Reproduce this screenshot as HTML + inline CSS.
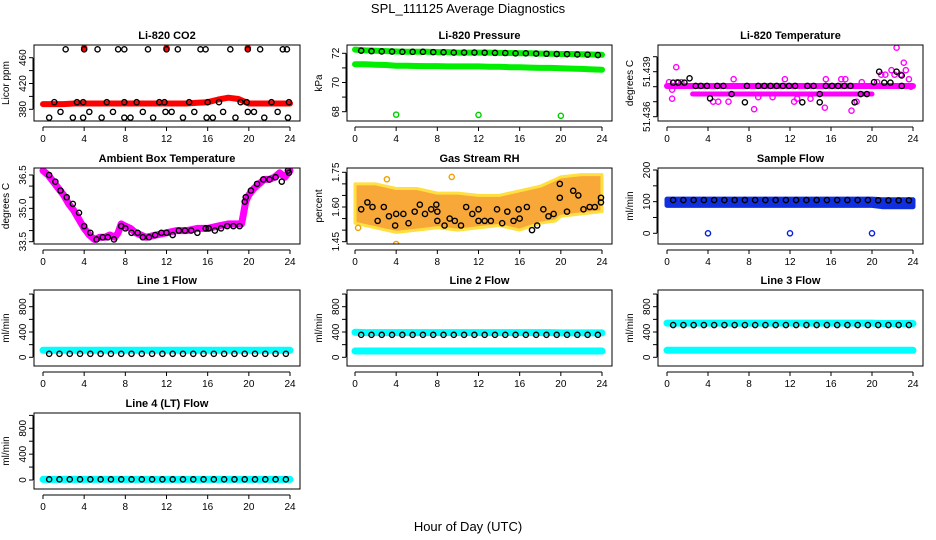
<!DOCTYPE html>
<html><head><meta charset="utf-8"><style>
html,body{margin:0;padding:0;background:#fff;}
svg{display:block;font-family:"Liberation Sans",sans-serif;}
</style></head><body>
<svg id="c" width="936" height="540" viewBox="0 0 936 540">
<text x="468" y="13" text-anchor="middle" font-size="13">SPL_111125  Average Diagnostics</text>
<text x="468" y="531" text-anchor="middle" font-size="13">Hour of Day (UTC)</text>
</svg>
<script>
// ---- data ----
const hourTicks=[0,4,8,12,16,20,24];
const hrs25=[0,1,2,3,4,5,6,7,8,9,10,11,12,13,14,15,16,17,18,19,20,21,22,23,24];
// CO2
const co2Band=[388,388,388,389,389,389,389,389,389,389,389,389,389,389,389,390,391,395,398,396,389,389,389,389,389];
const co2HighH=[2.2,4.0,5.3,7.3,7.9,10.2,12.0,13.1,15.3,15.8,18.2,19.9,21.1,23.3,23.7];
const co2HighV=[473,473,473,473,473,473,473,473,473,473,473,473,473,473,473];
const co2MidH=[1.1,3.3,3.9,6.2,7.9,9.1,11.3,11.8,14.2,16.0,17.1,19.2,19.8,22.2,23.9];
const co2MidV=[391,391,391,391,391,391,391,391,391,391,391,391,391,391,391];
const co2LowH=[0.6,1.7,2.9,3.9,4.5,5.7,6.8,7.9,8.5,9.7,10.7,11.9,12.5,13.6,14.7,15.9,16.5,17.5,18.7,19.9,20.5,21.5,22.8,23.8];
const co2LowV=[367,376,367,367,376,367,376,367,367,376,367,376,376,367,376,367,367,376,367,376,376,367,376,367];
const co2RedH=[4.0,12.0,19.9];
const co2RedV=[475,475,475];
// Pressure
const presBand1=[72.25,72.2,72.18,72.15,72.12,72.1,72.1,72.1,72.08,72.08,72.05,72.05,72.05,72.05,72.03,72.02,72.0,72.0,71.98,71.97,71.95,71.95,71.93,71.92,71.9];
const presBand2=[71.25,71.25,71.22,71.2,71.15,71.15,71.13,71.12,71.12,71.1,71.1,71.1,71.1,71.08,71.08,71.05,71.05,71.02,71.0,71.0,70.97,70.95,70.93,70.9,70.88];
const presBlack=[72.2,72.18,72.15,72.13,72.12,72.1,72.1,72.1,72.08,72.07,72.05,72.05,72.05,72.04,72.03,72.02,72.0,72.0,71.98,71.97,71.95,71.94,71.92,71.91,71.88];
const presOutH=[4.0,12.0,20.0];
const presOutV=[67.8,67.78,67.72];
// Li-820 temperature
const tempMain=[51.43805,51.43805,51.43805,51.43805,51.43805,51.43805,51.43805,51.43805,51.43805,51.43805,51.43805,51.43805,51.43805,51.43805,51.43805,51.43805,51.43805,51.43805,51.43805,51.43805,51.43805,51.43805,51.43805,51.43805,51.43805];
const tempLowH=[2.5,3,4,5,6,7,8,9,10,11,12,13,14,15,16,17,18,19,20];
const tempLowV=[51.43751,51.43751,51.43751,51.43751,51.43751,51.43751,51.43751,51.43751,51.43751,51.43751,51.43751,51.43751,51.43751,51.43751,51.43751,51.43751,51.43751,51.43751,51.43751];
const tempMagH=[0.2,0.5,0.9,1.0,1.4,0.5,4.5,5.0,6.0,6.5,8.5,8.9,10.3,11.5,12.4,12.7,14.0,15.4,15.5,17.0,17.4,18.0,18.5,19.0,20.5,20.9,21.3,21.9,22.2,22.4,22.8,23.1,23.3,23.6,23.8];
const tempMagV=[51.4383,51.4372,51.4393,51.4383,51.4383,51.4378,51.4370,51.4370,51.4370,51.4385,51.4365,51.4373,51.4373,51.4385,51.4370,51.4372,51.4372,51.4366,51.4385,51.4385,51.4385,51.4364,51.4370,51.4383,51.4383,51.4388,51.4388,51.4391,51.4388,51.4406,51.4388,51.4396,51.4391,51.4385,51.4380];
const tempBlkH=[0.6,1.1,1.7,2.2,2.8,3.3,3.9,4.2,4.9,5.5,6.3,7.6,7.8,8.9,9.5,10.1,10.7,11.3,11.9,12.5,13.2,13.7,14.3,14.9,14.9,15.5,16.1,16.7,17.3,17.9,18.3,18.9,19.5,20.2,20.7,21.2,21.8,22.4,22.9,22.9];
const tempBlkV=[51.43827,51.43827,51.43827,51.43856,51.43805,51.43805,51.43805,51.43722,51.43805,51.43805,51.43751,51.43696,51.43805,51.43805,51.43805,51.43805,51.43805,51.43805,51.43805,51.43805,51.43696,51.43805,51.43805,51.43751,51.43696,51.43805,51.43805,51.43805,51.43805,51.43805,51.43696,51.43751,51.43751,51.43830,51.43900,51.43827,51.43827,51.43900,51.43875,51.43805];
// Ambient box temperature
const ambH=[0,0.5,1,1.5,2,2.5,3,3.5,4,4.5,5,5.5,6,6.5,7,7.3,7.6,8,8.5,9,9.5,10,11,12,13,14,15,16,17,18,19,19.3,19.5,19.7,20,20.5,21,21.5,22,22.5,23,23.5,24];
const ambV=[36.7,36.5,36.2,35.9,35.6,35.2,34.9,34.5,34.1,33.8,33.6,33.7,33.7,33.8,33.7,33.9,34.3,34.2,34.1,33.9,33.8,33.7,33.8,33.9,34.0,34.0,34.1,34.1,34.2,34.3,34.3,34.3,34.8,35.3,35.6,35.9,36.1,36.3,36.3,36.4,36.6,36.4,36.7];
const ambBlkH=[0.6,1.2,1.7,2.3,2.9,3.5,4.0,4.6,5.2,5.8,6.3,6.9,7.6,8.0,8.6,9.2,9.7,10.3,10.9,11.5,12.0,12.6,13.2,13.8,14.4,15.0,15.8,16.1,16.7,17.3,17.9,18.5,19.1,19.6,19.7,20.2,20.8,21.4,22.0,22.6,23.2,23.8,23.9];
const ambBlkV=[36.5,36.2,35.8,35.5,35.2,34.8,34.2,33.9,33.6,33.7,33.7,33.6,34.2,34.1,33.9,33.9,33.7,33.7,33.8,33.9,33.9,33.8,34.0,34.0,34.0,33.9,34.1,34.1,34.0,34.1,34.2,34.2,34.2,35.3,35.5,35.8,36.1,36.3,36.3,36.4,36.2,36.7,36.6];
// Gas stream RH
const rhBandH=[0,2,4,6,8,10,12,14,16,18,19.5,20,22,24];
const rhUpper=[1.70,1.70,1.68,1.68,1.66,1.66,1.65,1.65,1.67,1.69,1.72,1.73,1.74,1.74];
const rhLower=[1.53,1.51,1.49,1.50,1.51,1.50,1.51,1.52,1.50,1.53,1.54,1.56,1.57,1.58];
const rhBlkH=[0.6,1.2,1.7,2.2,2.8,3.3,4.0,3.9,4.7,5.2,5.8,6.3,6.8,7.4,7.9,8.0,8.0,8.7,9.2,9.7,10.3,10.8,11.4,12.0,12.0,12.6,13.2,13.8,14.3,14.8,15.4,15.9,16.0,16.7,17.2,17.7,18.3,18.8,19.3,19.9,19.9,20.6,21.2,21.7,22.2,22.8,23.3,23.9,23.9];
const rhBlkV=[1.59,1.62,1.60,1.54,1.60,1.56,1.57,1.52,1.57,1.53,1.58,1.61,1.57,1.59,1.61,1.58,1.54,1.52,1.55,1.54,1.52,1.60,1.57,1.59,1.54,1.54,1.54,1.59,1.53,1.58,1.54,1.59,1.55,1.60,1.50,1.52,1.59,1.56,1.57,1.64,1.70,1.58,1.67,1.65,1.59,1.60,1.60,1.64,1.62];
const rhOutH=[0.3,4.0,9.4,3.1];
const rhOutV=[1.51,1.44,1.73,1.72];
// Sample flow
const sfUpper=[108,108,108,108,108,108,108,108,108,108,108,108,108,108,108,108,108,108,108,108,108,106,106,106,106];
const sfLower=[88,88,88,88,88,88,88,88,88,88,88,88,88,88,88,88,88,88,88,88,88,84,84,84,84];
const sfBlack=[105,105,105,105,105,105,105,105,105,105,105,105,105,105,105,105,105,105,105,105,105,104,104,104,104];
const sfOutH=[4.0,12.0,20.0];
const sfOutV=[0,0,0];
// Line flows
const l1Cyan=[110,110,110,110,110,110,110,110,110,110,110,110,110,110,110,110,110,110,110,110,110,110,110,110,110];
const l1Black=[55,55,55,55,55,55,55,55,55,55,55,55,55,55,55,55,55,55,55,55,55,55,55,55,55];
const l2CyanA=[395,390,390,390,390,390,390,390,390,390,390,390,390,390,390,390,390,390,390,390,385,385,385,385,385];
const l2CyanB=[100,100,100,100,100,100,100,100,100,100,100,100,100,100,100,100,100,100,100,100,100,100,100,100,100];
const l2Black=[355,355,355,355,355,355,355,355,355,355,355,355,355,355,355,355,355,355,355,355,355,355,355,355,355];
const l3CyanA=[540,540,540,540,540,540,540,540,540,540,540,540,540,540,540,540,540,540,540,540,540,535,535,535,535];
const l3CyanB=[110,110,110,110,110,110,110,110,110,110,110,110,110,110,110,110,110,110,110,110,110,110,110,110,110];
const l3Black=[510,510,510,510,510,510,510,510,510,510,510,510,510,510,510,510,510,510,510,510,510,510,510,510,510];
const l4Cyan=[10,10,10,10,10,10,10,10,10,10,10,10,10,10,10,10,10,10,10,10,10,10,10,10,10];
const l4Black=[10,10,10,10,10,10,10,10,10,10,10,10,10,10,10,10,10,10,10,10,10,10,10,10,10];

// ---- drawing ----
const NS='http://www.w3.org/2000/svg';
const svg=document.getElementById('c');
const COLS=[{l:34,r:300,x0:43,x24:290},{l:347,r:612,x0:355,x24:602},{l:658,r:923,x0:667,x24:913}];
const ROWS=[{t:45,b:121},{t:168,b:244},{t:290,b:366},{t:413,b:489}];
function mk(tag,attrs,parent){const e=document.createElementNS(NS,tag);for(const k in attrs)e.setAttribute(k,attrs[k]);(parent||svg).appendChild(e);return e;}
function panel(name,c,r,title,ylab,v1,p1,v2,p2,ticks,labels){
  const C=COLS[c],R=ROWS[r];
  const g=mk('g',{});
  
  
  const sx=h=>C.x0+h*(C.x24-C.x0)/24;
  const sy=v=>p1+(v-v1)*(p2-p1)/(v2-v1);
  const plot=mk('g',{},g);
  
  
  const t=mk('text',{x:(C.l+C.r)/2,y:R.t-6,'text-anchor':'middle','font-size':11,'font-weight':'bold'},g);
  t.textContent=title;
  
  
  const yl=mk('text',{transform:`translate(${C.l-25},${(R.t+R.b)/2}) rotate(-90)`,'text-anchor':'middle','font-size':10},g);
  yl.textContent=ylab;
  
  
  const xa=mk('g',{stroke:'#000','stroke-width':1},g);
  
  
  const yb=R.b+6;
  mk('line',{x1:sx(0),y1:yb,x2:sx(24),y2:yb},xa);
  hourTicks.forEach(h=>{mk('line',{x1:sx(h),y1:yb,x2:sx(h),y2:yb+4},xa);
    const tx=mk('text',{x:sx(h),y:yb+15,'text-anchor':'middle','font-size':10,stroke:'none',fill:'#000'},xa);tx.textContent=h;
    
    });
  const ya=mk('g',{stroke:'#000','stroke-width':1},g);
  
  
  const xl=C.l-1;
  mk('line',{x1:xl,y1:sy(ticks[0]),x2:xl,y2:sy(ticks[ticks.length-1])},ya);
  ticks.forEach(v=>mk('line',{x1:xl,y1:sy(v),x2:xl-4,y2:sy(v)},ya));
  labels.forEach(l=>{const tx=mk('text',{transform:`translate(${xl-7},${sy(l[0])}) rotate(-90)`,'text-anchor':'middle','font-size':10,stroke:'none',fill:'#000'},ya);tx.textContent=l[1];
    
    });
  mk('rect',{x:C.l,y:R.t,width:C.r-C.l,height:R.b-R.t,fill:'none',stroke:'#000','stroke-width':1},g);
  const clip='clip'+name;
  const cp=mk('clipPath',{id:clip},g);mk('rect',{x:C.l,y:R.t,width:C.r-C.l,height:R.b-R.t},cp);
  plot.setAttribute('clip-path',`url(#${clip})`);
  return {sx,sy,plot};
}
function band(P,xs,ys,color,w,name){
  const d=xs.map((h,i)=>(i?'L':'M')+P.sx(h).toFixed(1)+','+P.sy(ys[i]).toFixed(1)).join('');
  const e=mk('path',{d,fill:'none',stroke:color,'stroke-width':w,'stroke-linecap':'round','stroke-linejoin':'round'},P.plot);
  
  
}
function area(P,xs,lo,hi,color,edge,ew,name){
  let d=xs.map((h,i)=>(i?'L':'M')+P.sx(h).toFixed(1)+','+P.sy(hi[i]).toFixed(1)).join('');
  for(let i=xs.length-1;i>=0;i--)d+='L'+P.sx(xs[i]).toFixed(1)+','+P.sy(lo[i]).toFixed(1);
  const e=mk('path',{d:d+'Z',fill:color,stroke:edge,'stroke-width':ew,'stroke-linejoin':'round'},P.plot);
  
  
}
function pts(P,xs,ys,color,name,fill){
  xs.forEach((h,i)=>{const e=mk('circle',{cx:P.sx(h),cy:P.sy(ys[i]),r:2.6,fill:fill||'none',stroke:color,'stroke-width':1.4},P.plot);
    
    });
}
const everyHalf=hrs25.slice(1).map(h=>h-0.4);
const ofs=a=>a.slice(1);

// CO2
let P=panel('co2',0,0,'Li-820 CO2','Licor ppm',460,57.7,380,109.3,[380,400,420,440,460],[[380,'380'],[420,'420'],[460,'460']]);
band(P,hrs25,co2Band,'#ff0000',6,'co2-band');
pts(P,co2RedH,co2RedV,'#ff0000','co2-red-point','#ff0000');
pts(P,co2HighH,co2HighV,'#000','co2-point');
pts(P,co2MidH,co2MidV,'#000','co2-point');
pts(P,co2LowH,co2LowV,'#000','co2-point');
// Pressure
P=panel('pressure',1,0,'Li-820 Pressure','kPa',72,53.3,68,111.7,[68,69,70,71,72],[[68,'68'],[70,'70'],[72,'72']]);
band(P,hrs25,presBand1,'#00ee00',6,'pressure-band-1');
band(P,hrs25,presBand2,'#00ee00',6,'pressure-band-2');
pts(P,everyHalf,ofs(presBlack),'#000','pressure-point');
pts(P,presOutH,presOutV,'#00cc00','pressure-outlier');
// Li-820 temperature
P=panel('li820-temp',2,0,'Li-820 Temperature','degrees C',51.439,71.7,51.436,116.7,[51.436,51.437,51.438,51.439,51.440],[[51.439,'51.439'],[51.436,'51.436']]);
band(P,hrs25,tempMain,'#ff00ff',6,'temp-band');
band(P,tempLowH,tempLowV,'#ff00ff',5,'temp-band-low');
pts(P,tempMagH,tempMagV,'#ff00ff','temp-magenta-point');
pts(P,tempBlkH,tempBlkV,'#000','temp-point');
// Ambient
P=panel('ambient',0,1,'Ambient Box Temperature','degrees C',36.5,175,33.5,241.7,[33.5,34,34.5,35,35.5,36,36.5],[[33.5,'33.5'],[35,'35.0'],[36.5,'36.5']]);
band(P,ambH,ambV,'#ff00ff',7,'ambient-band');
pts(P,ambBlkH,ambBlkV,'#000','ambient-point');
// RH
P=panel('rh',1,1,'Gas Stream RH','percent',1.75,172.3,1.45,241.7,[1.45,1.5,1.55,1.6,1.65,1.7,1.75],[[1.45,'1.45'],[1.6,'1.60'],[1.75,'1.75']]);
area(P,rhBandH,rhLower,rhUpper,'#f7a838','#ffe040',3,'rh-cloud');
pts(P,rhOutH,rhOutV,'#f0a000','rh-outlier');
pts(P,rhBlkH,rhBlkV,'#000','rh-point');
// Sample flow
P=panel('sample-flow',2,1,'Sample Flow','ml/min',200,170,0,233.3,[0,50,100,150,200],[[0,'0'],[100,'100'],[200,'200']]);
area(P,hrs25,sfLower,sfUpper,'#1030e0','#1030e0',5,'sample-flow-band');
pts(P,everyHalf,ofs(sfBlack),'#000','sample-flow-point');
pts(P,sfOutH,sfOutV,'#0020e0','sample-flow-outlier');
// Line flows
const fT=[0,200,400,600,800,1000],fL=[[0,'0'],[400,'400'],[800,'800']];
P=panel('line1-flow',0,2,'Line 1 Flow','ml/min',800,306.7,0,357.3,fT,fL);
band(P,hrs25,l1Cyan,'#00ffff',7,'line1-cyan-band');
pts(P,everyHalf,ofs(l1Black),'#000','line1-point');
P=panel('line2-flow',1,2,'Line 2 Flow','ml/min',800,306.7,0,357.3,fT,fL);
band(P,hrs25,l2CyanA,'#00ffff',7,'line2-cyan-band-a');
band(P,hrs25,l2CyanB,'#00ffff',7,'line2-cyan-band-b');
pts(P,everyHalf,ofs(l2Black),'#000','line2-point');
P=panel('line3-flow',2,2,'Line 3 Flow','ml/min',800,306.7,0,357.3,fT,fL);
band(P,hrs25,l3CyanA,'#00ffff',7,'line3-cyan-band-a');
band(P,hrs25,l3CyanB,'#00ffff',7,'line3-cyan-band-b');
pts(P,everyHalf,ofs(l3Black),'#000','line3-point');
P=panel('line4-flow',0,3,'Line 4 (LT) Flow','ml/min',800,428.3,0,480,fT,fL);
band(P,hrs25,l4Cyan,'#00ffff',7,'line4-cyan-band');
pts(P,everyHalf,ofs(l4Black),'#000','line4-point');
</script>
</body></html>
